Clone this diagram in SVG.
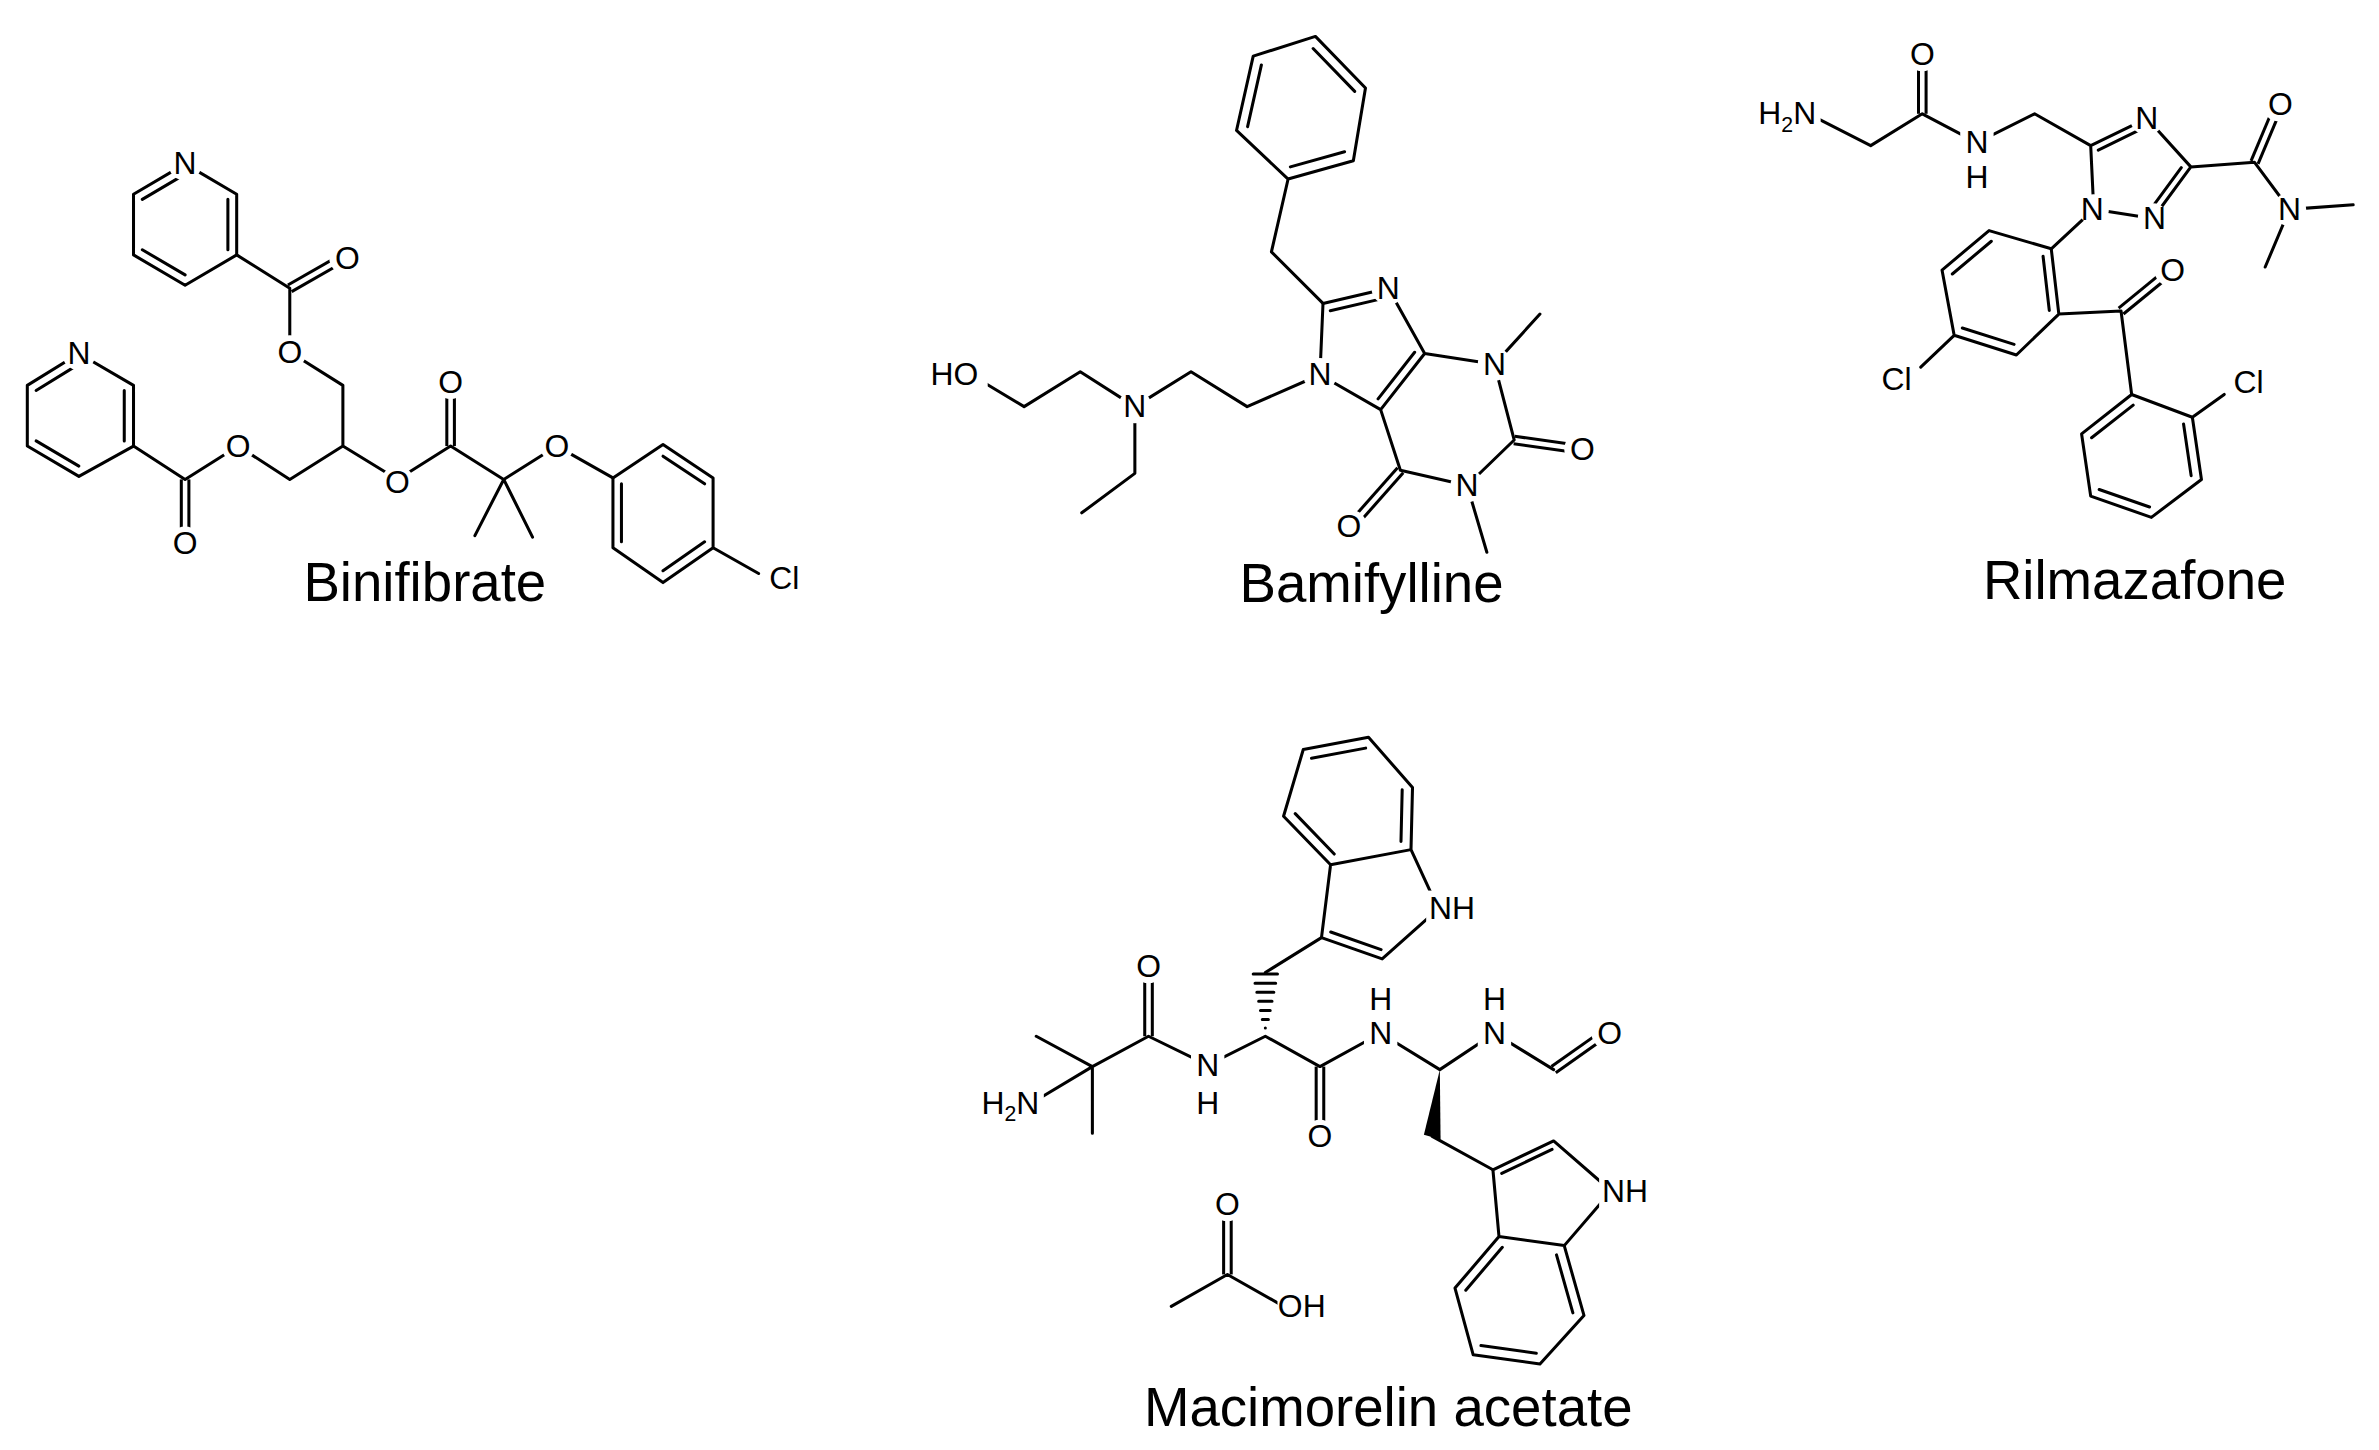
<svg xmlns="http://www.w3.org/2000/svg" width="2379" height="1450" viewBox="0 0 2379 1450">
<style>
.b{fill:none;stroke:#000;stroke-width:2;stroke-linejoin:round;stroke-linecap:round}
.d{stroke:#000;stroke-width:7;stroke-linecap:butt}
.dw{stroke:#fff;stroke-width:3;stroke-linecap:butt}
.bg{fill:#fff}
.t{font-family:"Liberation Sans",Arial,sans-serif;font-size:21px;fill:#000;text-anchor:middle}
.n{font-family:"Liberation Sans",Arial,sans-serif;font-size:36px;fill:#000;text-anchor:middle}
</style>
<rect width="2379" height="1450" fill="#fff"/>
<g transform="scale(1.5172)">
<g id="binifibrate">
<g id="bini-bonds">
<line class="d" x1="191" y1="190" x2="226" y2="170"/><line class="dw" x1="191" y1="190" x2="226" y2="170"/>
<line class="d" x1="122" y1="316" x2="122" y2="356"/><line class="dw" x1="122" y1="316" x2="122" y2="356"/>
<line class="d" x1="297" y1="294" x2="297" y2="254"/><line class="dw" x1="297" y1="294" x2="297" y2="254"/>
<path class="b" d="M122 108L156 128L156 168L122 188L88 168L88 128Z M122 114.8L93.8 131.4 M150.2 131.4L150.2 164.6 M122 181.2L93.8 164.6"/>
<path class="b" d="M52 233L88 254L88 294L52 314L18 294L18 254Z M52 240L23.8 257.4 M81.9 257.4L81.9 290.6 M52 307.2L23.8 290.6"/>
<path class="b" d="M156 168L191 190L191 232L226 254L226 294L191 316L157 294L122 316L88 294 M226 294L262 316L297 294L332 316L367 294L404 315 M332 316L313 353 M332 316L351 354"/>
<path class="b" d="M437 293L470 315L470 361L437 384L404 361L404 315Z M437 300.7L464.4 318.9 M409.6 357.1L409.6 318.9 M437 376.2L464.4 357.1 M470 361L500 378"/>
</g>
<g class="bg"><circle cx="122" cy="108" r="11"/><circle cx="52" cy="233" r="11"/><circle cx="228" cy="170" r="11"/><circle cx="191" cy="232" r="11"/><circle cx="157" cy="294" r="11"/><circle cx="122" cy="358" r="11"/><circle cx="262" cy="318" r="11"/><circle cx="297" cy="252" r="11"/><circle cx="367" cy="294" r="11"/><rect x="503" y="368" width="28" height="26"/></g>
<g class="t"><text x="122" y="115">N</text><text x="52" y="240">N</text><text x="229" y="177">O</text><text x="191" y="239">O</text><text x="157" y="301">O</text><text x="122" y="365">O</text><text x="262" y="325">O</text><text x="297" y="259">O</text><text x="367" y="301">O</text><text x="517" y="388">Cl</text></g>
<text class="n" x="280" y="396">Binifibrate</text>
</g>

<g id="bamifylline">
<line class="d" x1="998" y1="290" x2="1040" y2="296"/><line class="dw" x1="998" y1="290" x2="1040" y2="296"/>
<line class="d" x1="923" y1="310" x2="892" y2="345"/><line class="dw" x1="923" y1="310" x2="892" y2="345"/>
<path class="b" d="M815 86L826 37L867 24L900 58L892 106L849 118Z M865.5 32L892.9 60.2 M822.3 83.5L831.4 42.8 M886.2 100L850.5 110 M849 118L838 166L872 200"/>
<path class="b" d="M870 247L872 200L915 190L939 233L910 270Z M876.8 204.8L912.5 196.5 M932.4 232.2L908.3 262.9 M939 233L985 240L998 290L967 320L923 310L910 270 M985 240L1015 207 M967 320L980 364"/>
<path class="b" d="M640 247L675 268L712 245L748 268L785 245L822 268L870 247 M748 268L748 312L713 338"/>
<g class="bg"><rect x="611" y="235" width="40" height="25"/><circle cx="748" cy="268" r="11"/><circle cx="870" cy="247" r="11"/><circle cx="915" cy="190" r="11"/><circle cx="985" cy="240" r="11"/><circle cx="967" cy="320" r="11"/><circle cx="1042" cy="296" r="11"/><circle cx="890" cy="347" r="11"/></g>
<g class="t"><text x="629" y="254">HO</text><text x="748" y="275">N</text><text x="870" y="254">N</text><text x="915" y="197">N</text><text x="985" y="247">N</text><text x="967" y="327">N</text><text x="1043" y="303">O</text><text x="889" y="354">O</text></g>
<text class="n" x="904" y="397">Bamifylline</text>
</g>

<g id="rilmazafone">
<line class="d" x1="1267" y1="75" x2="1267" y2="36"/><line class="dw" x1="1267" y1="75" x2="1267" y2="36"/>
<line class="d" x1="1486" y1="107" x2="1502" y2="69"/><line class="dw" x1="1486" y1="107" x2="1502" y2="69"/>
<line class="d" x1="1398" y1="205" x2="1431" y2="178"/><line class="dw" x1="1398" y1="205" x2="1431" y2="178"/>
<path class="b" d="M1192 75L1233 96L1267 75L1303 94L1341 75L1378 96 M1378 96L1415 78L1444 110L1419 144L1380 138Z M1383 98.9L1413.6 84 M1437.7 110.5L1417 138.7 M1444 110L1486 107L1509 138L1551 135 M1509 138L1493 176 M1380 138L1352 164"/>
<path class="b" d="M1352 164L1311 152L1280 178L1288 221L1329 234L1357 207Z M1312.5 159L1286.8 180.6 M1346.6 168.9L1350.7 204.6 M1293.4 216.2L1327.5 227 M1288 221L1266 242 M1357 207L1398 205L1405 260"/>
<path class="b" d="M1405 260L1445 275L1451 316L1418 341L1378 327L1372 286Z M1406 267L1378.6 288.5 M1439.2 279.4L1444.2 313.5 M1416.8 334.2L1383.6 322.6 M1445 275L1466 260"/>
<g class="bg"><rect x="1160" y="62" width="40" height="28"/><circle cx="1267" cy="36" r="11"/><rect x="1292" y="82" width="22" height="46"/><circle cx="1415" cy="78" r="11"/><circle cx="1419" cy="144" r="10"/><circle cx="1380" cy="138" r="10"/><circle cx="1502" cy="69" r="11"/><circle cx="1509" cy="138" r="11"/><circle cx="1431" cy="178" r="11"/><rect x="1236" y="238" width="28" height="25"/><rect x="1468" y="240" width="28" height="25"/></g>
<g class="t"><text x="1178" y="82">H<tspan font-size="14" dy="5">2</tspan><tspan dy="-5">N</tspan></text><text x="1267" y="43">O</text><text x="1303" y="101">N</text><text x="1303" y="124">H</text><text x="1415" y="85">N</text><text x="1420" y="151">N</text><text x="1379" y="145">N</text><text x="1503" y="76">O</text><text x="1509" y="145">N</text><text x="1432" y="185">O</text><text x="1250" y="257">Cl</text><text x="1482" y="259">Cl</text></g>
<text class="n" x="1407" y="395">Rilmazafone</text>
</g>

<g id="macimorelin">
<line class="d" x1="757" y1="683" x2="757" y2="639"/><line class="dw" x1="757" y1="683" x2="757" y2="639"/>
<line class="d" x1="870" y1="703" x2="870" y2="747"/><line class="dw" x1="870" y1="703" x2="870" y2="747"/>
<line class="d" x1="1024" y1="705" x2="1058" y2="681"/><line class="dw" x1="1024" y1="705" x2="1058" y2="681"/>
<line class="d" x1="809" y1="840" x2="809" y2="796"/><line class="dw" x1="809" y1="840" x2="809" y2="796"/>
<path class="b" d="M680 727L720 703L757 683L796 702L834 683L870 703L910 681L949 705L985 681L1024 705 M720 703L683 683 M720 703L720 747 M834 641L871 618 M944 749L984 771 M772 861L809 840L846 861"/>
<path class="b" d="M834 677.5L834 677.5 M832 672h4 M830.8 666h6.4 M829.6 660h8.8 M828.4 654h11.2 M827.2 648h13.6 M826 642h16"/>
<polygon points="949,705 938.5,748 949.5,751" fill="#000"/>
<path class="b" d="M871 618L911 632L948 599L930 560L877 570Z M877.1 614.3L910.3 625.9 M877 570L846 538L859 494L902 486L931 519L930 560 M879.4 562.9L853.7 536.3 M864.4 499.8L900.1 493.1 M924.2 520.5L923.4 554.6"/>
<path class="b" d="M984 771L1024 752L1062 785L1031 821L988 815Z M989.8 773.4L1023 757.6 M988 815L959 849L971 893L1015 899L1044 867L1031 821 M990.2 822.1L966.1 850.4 M976.1 886.9L1012.6 891.9 M1036.7 865.3L1025.9 827.1"/>
<g class="bg"><rect x="646" y="714" width="42" height="28"/><circle cx="757" cy="637" r="11"/><rect x="785" y="690" width="22" height="48"/><circle cx="870" cy="749" r="11"/><rect x="899" y="648" width="22" height="46"/><rect x="974" y="648" width="22" height="46"/><circle cx="1060" cy="681" r="11"/><rect x="940" y="587" width="34" height="25"/><rect x="1054" y="773" width="34" height="25"/><circle cx="809" cy="794" r="11"/><rect x="842" y="849" width="34" height="25"/></g>
<g class="t"><text x="666" y="734">H<tspan font-size="14" dy="5">2</tspan><tspan dy="-5">N</tspan></text><text x="757" y="644">O</text><text x="796" y="709">N</text><text x="796" y="734">H</text><text x="870" y="756">O</text><text x="910" y="688">N</text><text x="910" y="666">H</text><text x="985" y="688">N</text><text x="985" y="666">H</text><text x="1061" y="688">O</text><text x="957" y="606">NH</text><text x="1071" y="792">NH</text><text x="809" y="801">O</text><text x="858" y="868">OH</text></g>
<text class="n" x="915" y="940">Macimorelin acetate</text>
</g>
</g>
</svg>
